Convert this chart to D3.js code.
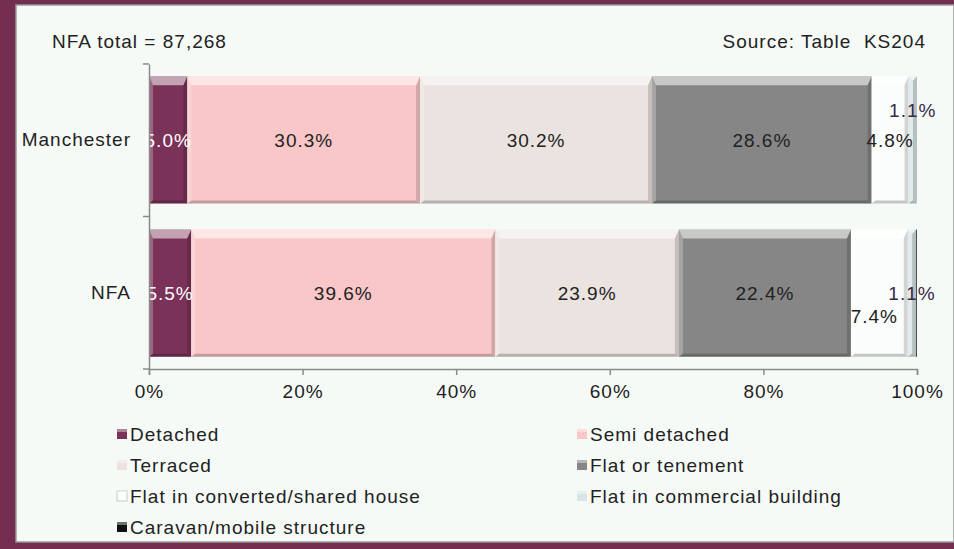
<!DOCTYPE html>
<html>
<head>
<meta charset="utf-8">
<script src="https://cdn.jsdelivr.net/npm/d3@7"></script>
<style>
  body { margin: 0; background: #722d4f; }
  svg { display: block; font-family: "Liberation Sans", Arial, sans-serif; }
  svg text { letter-spacing: 1px; white-space: pre; }
</style>
</head>
<body>
<script>
var width = 954;
var height = 549;

// data
var areas = ['Manchester', 'NFA'];
var types = ['Detached', 'Semi detached', 'Terraced', 'Flat or tenement',
  'Flat in converted/shared house', 'Flat in commercial building', 'Caravan/mobile structure'];
var manchester = [5.0, 30.3, 30.2, 28.6, 4.8, 1.1, 0.0];
var nfa = [5.5, 39.6, 23.9, 22.4, 7.4, 1.1, 0.1];
var colors = ['#7a3258', '#f9c7c8', '#ebe3df', '#868686', '#fbfdfc', '#d9e5e5', '#111111'];
var xTicks = [0, 20, 40, 60, 80, 100];

var values = [manchester, nfa];
var fs = 19;

var svg = d3.select('body').append('svg')
  .attr('width', width)
  .attr('height', height);

// frame
svg.append('rect').attr('x', 0).attr('y', 0).attr('width', width).attr('height', height).attr('fill', '#722d4f');
svg.append('rect').attr('x', 16).attr('y', 5).attr('width', width - 16).attr('height', 537)
  .attr('fill', '#f6faf7').attr('stroke', '#9a9a9a').attr('stroke-width', 1.5);

var x = d3.scaleLinear().domain([0, 100]).range([149, 917]);
var y = d3.scaleBand().domain(areas).range([64, 369]).paddingInner(0.17).paddingOuter(0.08);

// stacked layout
var rows = areas.map(function(a, i) {
  var obj = { area: a };
  types.forEach(function(t, j) { obj[t] = values[i][j]; });
  return obj;
});
var series = d3.stack().keys(types)(rows);

// bars with bevel
series.forEach(function(s, j) {
  s.forEach(function(d) {
    var x0 = x(d[0]), x1 = x(d[1]);
    var y0 = y(d.data.area), y1 = y0 + y.bandwidth();
    var w = x1 - x0;
    if (w <= 0.2) return;
    var g = svg.append('g');
    g.append('rect').attr('x', x0).attr('y', y0).attr('width', w).attr('height', y1 - y0)
      .attr('fill', colors[j]);
    var bt = Math.min(9, w / 2), bs = Math.min(4, w / 2), bb = 3;
    g.append('polygon')
      .attr('points', [[x0, y0], [x1, y0], [x1 - bs, y0 + bt], [x0 + bs, y0 + bt]].join(' '))
      .attr('fill', '#ffffff').attr('opacity', 0.55);
    g.append('polygon')
      .attr('points', [[x0, y0], [x0 + bs, y0 + bt], [x0 + bs, y1 - bb], [x0, y1]].join(' '))
      .attr('fill', '#ffffff').attr('opacity', 0.25);
    g.append('polygon')
      .attr('points', [[x1, y0], [x1, y1], [x1 - bs, y1 - bb], [x1 - bs, y0 + bt]].join(' '))
      .attr('fill', '#000000').attr('opacity', 0.16);
    g.append('polygon')
      .attr('points', [[x0, y1], [x1, y1], [x1 - bs, y1 - bb], [x0 + bs, y1 - bb]].join(' '))
      .attr('fill', '#000000').attr('opacity', 0.22);
  });
});

// value labels (a few nudged like the original)
var labelFix = {
  'Manchester|Flat in commercial building': [-30, 0],
  'NFA|Flat in converted/shared house': [23, -5]
};
series.forEach(function(s, j) {
  if (j > 5) return;
  s.forEach(function(d) {
    var key = d.data.area + '|' + types[j];
    var off = labelFix[key] || [0, 0];
    var cx = (x(d[0]) + x(d[1])) / 2 + off[1];
    var cy = y(d.data.area) + y.bandwidth() / 2 + off[0];
    svg.append('text')
      .attr('x', cx).attr('y', cy)
      .attr('dy', '0.35em')
      .attr('text-anchor', 'middle')
      .attr('font-size', fs)
      .attr('fill', j === 0 ? '#ffffff' : (j === 5 ? '#3a2a4a' : '#222222'))
      .text(d3.format('.1f')(d[1] - d[0]) + '%');
  });
});

// axes
var xAxis = svg.append('g').attr('transform', 'translate(0,369)')
  .call(d3.axisBottom(x).tickValues(xTicks).tickSize(6).tickPadding(10)
    .tickFormat(function(d) { return d + '%'; }));
xAxis.selectAll('path, line').attr('stroke', '#8a8a8a').attr('stroke-width', 1.5);
xAxis.selectAll('text').attr('font-size', fs).attr('fill', '#222').attr('font-family', '"Liberation Sans", Arial, sans-serif');

var yAxis = svg.append('g').attr('transform', 'translate(149,0)')
  .call(d3.axisLeft(y).tickSize(0).tickPadding(18));
yAxis.select('.domain').attr('stroke', '#8a8a8a').attr('stroke-width', 1.5);
yAxis.selectAll('text').attr('font-size', fs).attr('fill', '#222').attr('font-family', '"Liberation Sans", Arial, sans-serif');
[64, 216.5, 369].forEach(function(ty) {
  yAxis.append('line').attr('x1', -6).attr('x2', 0).attr('y1', ty).attr('y2', ty)
    .attr('stroke', '#8a8a8a').attr('stroke-width', 1.5);
});

// header texts
svg.append('text').attr('x', 52).attr('y', 48).attr('font-size', fs).attr('fill', '#222')
  .text('NFA total = 87,268');
svg.append('text').attr('x', 926).attr('y', 48).attr('font-size', fs).attr('fill', '#222')
  .attr('text-anchor', 'end').text('Source: Table  KS204');

// legend
var legend = svg.append('g');
types.forEach(function(t, i) {
  var col = i % 2, row = Math.floor(i / 2);
  var lx = col === 0 ? 117 : 577;
  var ly = 434 + row * 31;
  legend.append('rect').attr('x', lx).attr('y', ly - 5).attr('width', 10).attr('height', 10)
    .attr('fill', colors[i]).attr('stroke', i === 4 ? '#c8c8c8' : 'none');
  legend.append('rect').attr('x', lx).attr('y', ly - 5).attr('width', 10).attr('height', 3)
    .attr('fill', '#fff').attr('opacity', 0.4);
  legend.append('text').attr('x', lx + 13).attr('y', ly).attr('dy', '0.35em')
    .attr('font-size', fs).attr('fill', '#222').text(t);
});
</script>
</body>
</html>
